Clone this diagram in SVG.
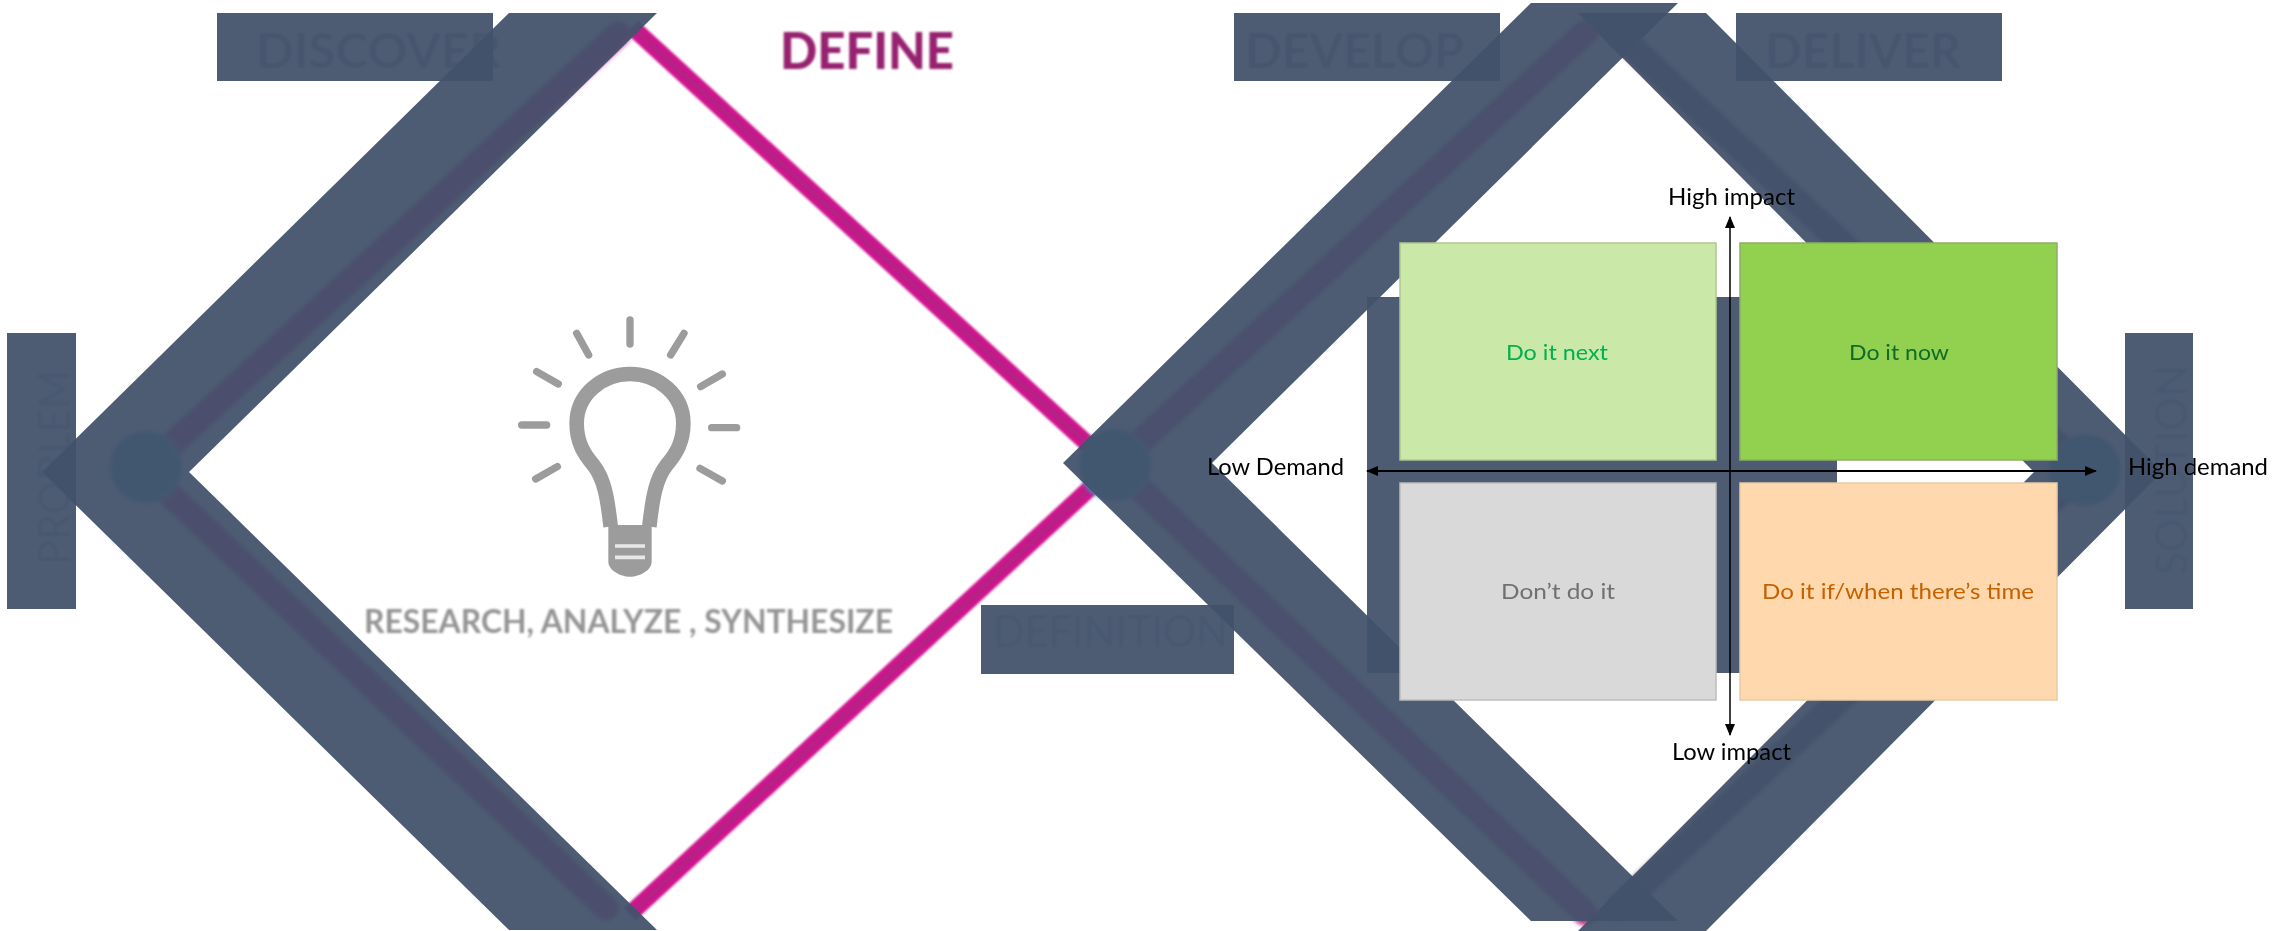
<svg xmlns="http://www.w3.org/2000/svg" width="2277" height="931" viewBox="0 0 2277 931">
<style>
.ch{fill:#43536B;fill-opacity:.944}
.lb{fill:#43536B;fill-opacity:.944}
.mg{fill:none;stroke:#CC158D;stroke-width:17}
.md{fill:none;stroke:#9E2A7E;stroke-width:5;stroke-opacity:.55}
.bd{fill:none;stroke-width:25;stroke-linecap:round}
.ghost{font-family:"Lato","Liberation Sans",sans-serif;font-weight:700;font-size:48px;fill:#A878A8}
.thin{font-family:"Lato","Liberation Sans",sans-serif;font-weight:400;font-size:44px;fill:#A4AEC2}
.q{font-family:"Lato","Open Sans",sans-serif;font-size:22px;text-anchor:start}
.ax{font-family:"Lato","Open Sans",sans-serif;font-size:23px;fill:#000}
.ray{stroke:#9C9C9C;stroke-width:22;fill:none;stroke-linecap:round}
</style>
<defs>
<filter id="soft" x="-5%" y="-20%" width="110%" height="140%"><feGaussianBlur stdDeviation="0.9"/></filter>
<filter id="softb" x="-10%" y="-10%" width="120%" height="120%"><feGaussianBlur stdDeviation="1.6"/></filter>
<filter id="line" filterUnits="userSpaceOnUse" x="0" y="0" width="2277" height="931"><feGaussianBlur stdDeviation="1"/></filter>
<filter id="band" filterUnits="userSpaceOnUse" x="0" y="0" width="2277" height="931"><feGaussianBlur stdDeviation="2"/></filter>
<marker id="ah" viewBox="0 0 12 10" refX="11" refY="5" markerWidth="12" markerHeight="10" markerUnits="userSpaceOnUse" orient="auto-start-reverse"><path d="M0 0L12 5L0 10Z" fill="#000"/></marker>
</defs>
<rect width="2277" height="931" fill="#FFFFFF"/>

<g id="underlying-text" filter="url(#line)">
<text class="ghost" x="256" y="68" textLength="245" lengthAdjust="spacingAndGlyphs">DISCOVER</text>
<text class="ghost" x="1245" y="68" textLength="219" lengthAdjust="spacingAndGlyphs">DEVELOP</text>
<text class="ghost" x="1765" y="68" textLength="196" lengthAdjust="spacingAndGlyphs">DELIVER</text>
<text class="thin" x="993" y="647" textLength="235" lengthAdjust="spacingAndGlyphs">DEFINITION</text>
<text class="thin" transform="translate(70 565) rotate(-90)" x="0" y="0" textLength="195" lengthAdjust="spacingAndGlyphs">PROBLEM</text>
<text class="thin" transform="translate(2187 575) rotate(-90)" x="0" y="0" textLength="210" lengthAdjust="spacingAndGlyphs">SOLUTION</text>
</g>

<g id="connectors">
<g filter="url(#line)">
<path class="mg" d="M632 27L1115 469"/>
<path class="md" d="M632 27L1115 469"/>
<path class="mg" d="M1115 465L630 914"/>
<path class="md" d="M1115 465L630 914"/>
</g>
<g filter="url(#band)">
<path class="bd" stroke="#D6238B" d="M618 34L144 470L606 908"/>
<path class="bd" stroke="#C8308B" d="M1586 32L1115 465L1585 913"/>
<path class="bd" stroke="#5A4A6A" d="M1618 34L2085 470L1618 908"/>
<circle cx="146" cy="467" r="36" fill="#30A6C8"/>
<circle cx="1115" cy="465" r="36" fill="#30A6C8"/>
<circle cx="2085" cy="470" r="36" fill="#30A0C0"/>
</g>
<polygon class="ch" points="42,472 509,13 657,13 189,472 657,930 509,930"/>
<polygon class="ch" points="1063,463 1531,3 1678,3 1212,463 1678,921 1531,921"/>
<polygon class="ch" points="1578,13 1706,13 2162,472 1706,931 1578,931 2034,472"/>
</g>

<g id="discover"><rect class="lb" x="217" y="13" width="276" height="68"/></g>
<g id="develop"><rect class="lb" x="1234" y="13" width="266" height="68"/></g>
<g id="deliver"><rect class="lb" x="1736" y="13" width="266" height="68"/></g>
<g id="problem"><rect class="lb" x="7" y="333" width="69" height="276"/></g>
<g id="solution"><rect class="lb" x="2125" y="333" width="68" height="276"/></g>
<g id="definition"><rect class="lb" x="981" y="605" width="253" height="69"/></g>
<g id="backing"><rect class="lb" x="1367" y="297" width="470" height="376"/></g>

<g id="define">
<text x="780" y="69" textLength="174" lengthAdjust="spacingAndGlyphs" filter="url(#soft)" font-family="Lato, 'Liberation Sans', sans-serif" font-weight="900" font-size="51" fill="#96246F">DEFINE</text>
</g>

<g id="bulb" transform="translate(480 300) scale(.33333)" filter="url(#softb)">
<path d="M392 680C382 590 372 535 340 495C310 460 290 425 290 370C290 285 365 222 450 222C535 222 610 285 610 370C610 425 590 460 560 495C528 535 518 590 508 680" fill="none" stroke="#9C9C9C" stroke-width="44"/>
<path d="M385 675H515V785C515 810 480 830 450 830C420 830 385 810 385 785Z" fill="#9C9C9C"/>
<path d="M405 738H495M405 772H495" stroke="#E8E8E8" stroke-width="11"/>
<path class="ray" d="M450 60V132M290 100L326 165M612 100L572 165M170 215L235 252M727 222L662 260M125 375H200M695 383H770M167 537L232 500M727 543L660 505"/>
</g>
<g id="research">
<text x="364" y="633" textLength="529" lengthAdjust="spacingAndGlyphs" filter="url(#soft)" font-family="Lato, 'Liberation Sans', sans-serif" font-weight="700" font-size="32" fill="#949494">RESEARCH, ANALYZE , SYNTHESIZE</text>
</g>

<g id="do-it-next"><rect x="1400" y="243" width="316" height="217" fill="#CAE9A8" stroke="#B3C593" stroke-width="1.5"/><text class="q" x="1506" y="360" textLength="102" lengthAdjust="spacingAndGlyphs" fill="#00B050">Do it next</text></g>
<g id="do-it-now"><rect x="1740" y="243" width="317" height="217" fill="#92D14F" stroke="#8FAF63" stroke-width="1.5"/><text class="q" x="1849" y="360" textLength="100" lengthAdjust="spacingAndGlyphs" fill="#0F6B2B">Do it now</text></g>
<g id="dont-do-it"><rect x="1400" y="483" width="316" height="217" fill="#D9D9D9" stroke="#BDBDBD" stroke-width="1.5"/><text class="q" x="1501" y="599" textLength="114" lengthAdjust="spacingAndGlyphs" fill="#707070">Don’t do it</text></g>
<g id="do-it-if-when"><rect x="1740" y="483" width="317" height="217" fill="#FFD9AD" stroke="#E6CBA8" stroke-width="1.5"/><text class="q" x="1762" y="599" textLength="272" lengthAdjust="spacingAndGlyphs" fill="#C46200">Do it if/when there’s time</text></g>

<g id="axes">
<line x1="1367" y1="471" x2="2096" y2="471" stroke="#000" stroke-width="2" marker-start="url(#ah)" marker-end="url(#ah)"/>
<line x1="1730" y1="735" x2="1730" y2="217" stroke="#000" stroke-width="1.5" marker-start="url(#ah)" marker-end="url(#ah)"/>
</g>
<g id="axis-labels">
<text class="ax" x="1668" y="205" textLength="127" lengthAdjust="spacingAndGlyphs">High impact</text>
<text class="ax" x="1672" y="760" textLength="119" lengthAdjust="spacingAndGlyphs">Low impact</text>
<text class="ax" x="1207" y="475" textLength="137" lengthAdjust="spacingAndGlyphs">Low Demand</text>
<text class="ax" x="2128" y="475" textLength="140" lengthAdjust="spacingAndGlyphs">High demand</text>
</g>
</svg>
